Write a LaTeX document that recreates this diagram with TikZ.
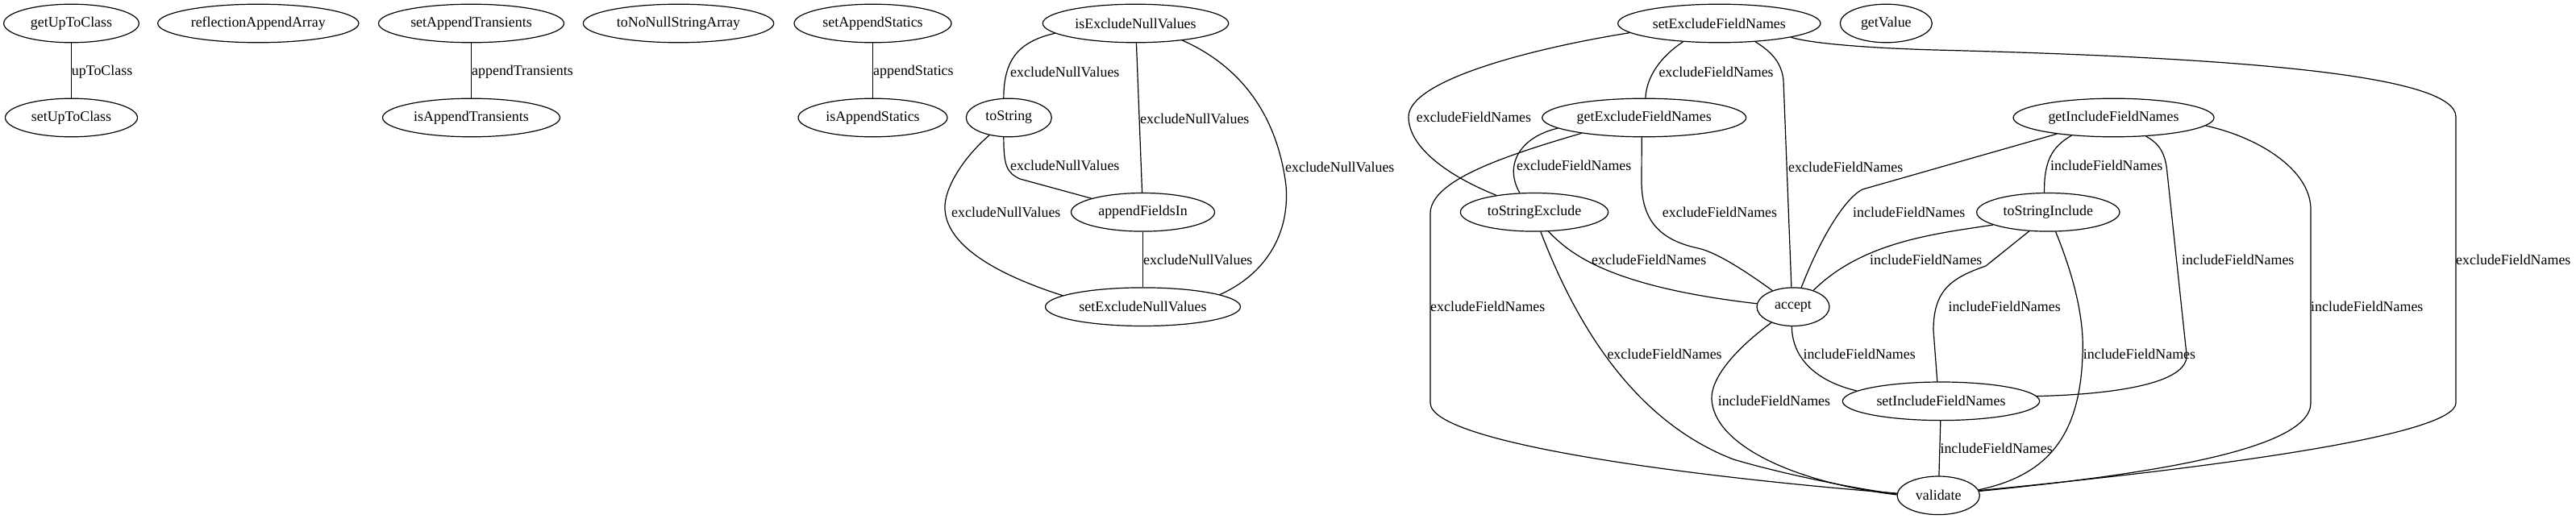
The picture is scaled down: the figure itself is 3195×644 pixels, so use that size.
\documentclass[tikz,border=0pt]{standalone}
\usepackage{fontspec}
\setmainfont{Liberation Serif}
\usetikzlibrary{shapes.geometric}
\begin{document}
\begin{tikzpicture}[x=1pt,y=-1pt,
  gnode/.style={draw, ellipse, line width=1.2pt, inner sep=0pt, minimum height=47.6pt, font=\fontsize{17.9}{20}\selectfont},
  elabel/.style={anchor=west, inner sep=0pt, font=\fontsize{17.9}{20}\selectfont},
  conn/.style={line width=1.2pt}]
\useasboundingbox (0,0) rectangle (3195,644);
% nodes
\node[gnode, minimum width=167.7pt] (gutc) at (88.5,29) {getUpToClass};
\node[gnode, minimum width=164pt] (sutc) at (88.5,146) {setUpToClass};
\node[gnode, minimum width=249.3pt] (raa) at (320.3,29) {reflectionAppendArray};
\node[gnode, minimum width=230pt] (sat) at (584.5,29) {setAppendTransients};
\node[gnode, minimum width=220pt] (iat) at (584.5,146) {isAppendTransients};
\node[gnode, minimum width=236.4pt] (tnnsa) at (841.5,29) {toNoNullStringArray};
\node[gnode, minimum width=195pt] (sas) at (1082.5,29) {setAppendStatics};
\node[gnode, minimum width=185pt] (ias) at (1082.5,146) {isAppendStatics};
\node[gnode, minimum width=230.4pt] (ienv) at (1408.5,29) {isExcludeNullValues};
\node[gnode, minimum width=106pt] (tostr) at (1251.3,146) {toString};
\node[gnode, minimum width=178pt] (afi) at (1417.5,263.3) {appendFieldsIn};
\node[gnode, minimum width=242pt] (senv) at (1417.5,380.7) {setExcludeNullValues};
\node[gnode, minimum width=251.3pt] (sefn) at (2132.3,29) {setExcludeFieldNames};
\node[gnode, minimum width=114pt] (gv) at (2339.3,29) {getValue};
\node[gnode, minimum width=253pt] (gefn) at (2039.2,146) {getExcludeFieldNames};
\node[gnode, minimum width=249pt] (gifn) at (2621.5,146) {getIncludeFieldNames};
\node[gnode, minimum width=183.3pt] (tse) at (1903,263.3) {toStringExclude};
\node[gnode, minimum width=177.3pt] (tsi) at (2540.3,263.3) {toStringInclude};
\node[gnode, minimum width=90pt] (acc) at (2224,380.7) {accept};
\node[gnode, minimum width=244.3pt] (sifn) at (2407.5,497.8) {setIncludeFieldNames};
\node[gnode, minimum width=102.3pt] (val) at (2404.2,614.8) {validate};
% left edges
\draw[conn] (gutc) -- (sutc);
\draw[conn] (sat) -- (iat);
\draw[conn] (sas) -- (ias);
% middle cluster
\draw[conn] (ienv.187) .. controls (1262,52) and (1245,75) .. (tostr.105);
\draw[conn] (ienv) -- (afi);
\draw[conn] (ienv.340) .. controls (1545,85) and (1585,150) .. (1595,230) .. controls (1600,290) and (1570,340) .. (senv.9);
\draw[conn] (tostr.255) .. controls (1245,205) and (1248,214) .. (1265,222) -- (afi.165);
\draw[conn] (tostr.222) .. controls (1195,195) and (1170,235) .. (1172,260) .. controls (1175,310) and (1250,345) .. (senv.172);
\draw[conn] (afi) -- (senv);
% right cluster
\draw[conn] (sefn.186) .. controls (1900,60) and (1745,100) .. (1747,146) .. controls (1748,185) and (1800,220) .. (tse.156);
\draw[conn] (sefn.207) .. controls (2060,70) and (2042,95) .. (gefn.86);
\draw[conn] (sefn.333) .. controls (2200,66) and (2210,80) .. (2212,100) -- (acc.95);
\draw[conn] (sefn.349) .. controls (2250,55) and (2330,60) .. (2400,62) .. controls (2800,72) and (3046,95) .. (3046,145) -- (3046,500) .. controls (3046,540) and (2750,580) .. (val.7);
\draw[conn] (gefn.187) .. controls (1885,170) and (1865,205) .. (tse.127);
\draw[conn] (gefn.194) .. controls (1860,195) and (1774,225) .. (1774,265) -- (1774,500) .. controls (1774,550) and (2100,592) .. (val.177);
\draw[conn] (gefn.263) -- (2036,225) .. controls (2036,275) and (2060,298) .. (2106,308) .. controls (2130,313) and (2170,340) .. (acc.142);
\draw[conn] (tse.306) .. controls (1945,312) and (1990,355) .. (acc.175);
\draw[conn] (tse.288) .. controls (1950,390) and (2020,520) .. (2150,570) .. controls (2200,585) and (2290,605) .. (val.178);
\draw[conn] (acc.216) .. controls (2150,435) and (2122,470) .. (2123,495) .. controls (2125,550) and (2220,598) .. (val.179);
\draw[conn] (acc.266) .. controls (2223,450) and (2260,475) .. (sifn.173);
\draw[conn] (gifn.196) -- (2310,235) .. controls (2290,245) and (2260,290) .. (acc.67);
\draw[conn] (gifn.203) .. controls (2545,182) and (2535,200) .. (tsi.101);
\draw[conn] (gifn.330) .. controls (2678,178) and (2686,190) .. (2688,215) -- (2712,440) .. controls (2715,480) and (2600,490) .. (sifn.3);
\draw[conn] (gifn.355) .. controls (2800,170) and (2866,210) .. (2866,260) -- (2866,500) .. controls (2866,560) and (2650,590) .. (val.6);
\draw[conn] (tsi.193) .. controls (2400,290) and (2310,300) .. (acc.39);
\draw[conn] (tsi.225) -- (2463,330) .. controls (2420,345) and (2398,360) .. (2398,410) -- (sifn.101);
\draw[conn] (tsi.291) .. controls (2575,350) and (2585,400) .. (2583,440) .. controls (2580,540) and (2540,590) .. (val.8);
\draw[conn] (sifn) -- (val);
% labels
\node[elabel] (lutc) at (88.7,89) {upToClass};
\node[elabel] (lat) at (585,89) {appendTransients};
\node[elabel] (las) at (1083,89) {appendStatics};
\node[elabel] (la) at (1253,89) {excludeNullValues};
\node[elabel] (lb) at (1414,147) {excludeNullValues};
\node[elabel] (lc) at (1594,207) {excludeNullValues};
\node[elabel] (ld) at (1253,205.3) {excludeNullValues};
\node[elabel] (le) at (1180,263.3) {excludeNullValues};
\node[elabel] (lf) at (1418,322.8) {excludeNullValues};
\node[elabel] (l1) at (1756.7,145.8) {excludeFieldNames};
\node[elabel] (l2) at (2057.3,89) {excludeFieldNames};
\node[elabel] (l3) at (2218,207) {excludeFieldNames};
\node[elabel] (l4) at (3046,322.8) {excludeFieldNames};
\node[elabel] (l5) at (1881,205.3) {excludeFieldNames};
\node[elabel] (l6) at (1774,380.7) {excludeFieldNames};
\node[elabel] (l7) at (2061.7,263.3) {excludeFieldNames};
\node[elabel] (l8) at (1974,322.8) {excludeFieldNames};
\node[elabel] (l9) at (1993.3,439.4) {excludeFieldNames};
\node[elabel] (l10) at (2130.7,497.8) {includeFieldNames};
\node[elabel] (l11) at (2236.3,439.4) {includeFieldNames};
\node[elabel] (l12) at (2298,263.3) {includeFieldNames};
\node[elabel] (l13) at (2543,205.3) {includeFieldNames};
\node[elabel] (l14) at (2706,322.8) {includeFieldNames};
\node[elabel] (l15) at (2866,380.7) {includeFieldNames};
\node[elabel] (l16) at (2319,322.8) {includeFieldNames};
\node[elabel] (l17) at (2416.3,380.7) {includeFieldNames};
\node[elabel] (l18) at (2583.7,439.4) {includeFieldNames};
\node[elabel] (l19) at (2406.3,556.5) {includeFieldNames};
\end{tikzpicture}
\end{document}
